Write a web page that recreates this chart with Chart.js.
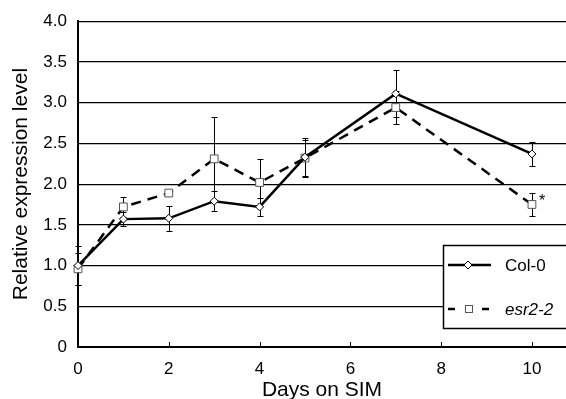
<!DOCTYPE html>
<html>
<head>
<meta charset="utf-8">
<style>
  html, body { margin: 0; padding: 0; background: #fff; }
  #wrap { width: 566px; height: 399px; }
</style>
<script src="https://cdn.jsdelivr.net/npm/chart.js@4.4.1/dist/chart.umd.min.js"></script>
</head>
<body>
<div id="wrap"><canvas id="expressionChart" width="566" height="399"></canvas></div>
<script>
  // ==================== Data ====================
  const days = [0, 1, 2, 3, 4, 5, 7, 10];
  const col0Values = [1.00, 1.57, 1.58, 1.79, 1.72, 2.33, 3.11, 2.37];
  const col0Errors = [0.24, 0.09, 0.15, 0.12, 0.11, 0.24, 0.29, 0.145];
  const esr22Values = [0.96, 1.72, 1.89, 2.31, 2.02, 2.32, 2.94, 1.75];
  const esr22Errors = [0.20, 0.12, 0.03, 0.51, 0.29, 0.22, 0.20, 0.14];
  const seriesLabels = ['Col-0', 'esr2-2'];
  const xTickValues = [0, 2, 4, 6, 8, 10];
  const yTickValues = [0, 0.5, 1, 1.5, 2, 2.5, 3, 3.5, 4];
  const markedIndex = 7; // esr2-2 point flagged with *

(function() {
  'use strict';

  const FONT = '"Liberation Sans", Arial, Helvetica, sans-serif';

  // ==================== Plugins ====================

  // vertical error bars with small caps, drawn under the markers
  const errorBars = {
    id: 'errorBars',
    beforeDatasetsDraw(chart) {
      const ctx = chart.ctx;
      const xs = chart.scales.x;
      const ys = chart.scales.y;
      ctx.save();
      ctx.strokeStyle = '#000';
      ctx.lineWidth = 1;
      chart.data.datasets.forEach(ds => {
        ds.data.forEach((pt, i) => {
          const err = ds.errors[i];
          const px = Math.round(xs.getPixelForValue(pt.x)) + 0.5;
          const top = Math.round(ys.getPixelForValue(pt.y + err)) + 0.5;
          const bot = Math.round(ys.getPixelForValue(pt.y - err)) + 0.5;
          ctx.beginPath();
          ctx.moveTo(px, top); ctx.lineTo(px, bot);
          ctx.moveTo(px - 3, top); ctx.lineTo(px + 3, top);
          ctx.moveTo(px - 3, bot); ctx.lineTo(px + 3, bot);
          ctx.stroke();
        });
      });
      ctx.restore();
    }
  };

  // inward tick marks on the x axis + asterisk + boxed legend
  const decorations = {
    id: 'decorations',
    afterDraw(chart) {
      const ctx = chart.ctx;
      const xs = chart.scales.x;
      const ys = chart.scales.y;
      const base = ys.getPixelForValue(0);

      ctx.save();
      ctx.strokeStyle = '#000';
      ctx.lineWidth = 1;
      xTickValues.slice(1).forEach(v => {
        const px = Math.round(xs.getPixelForValue(v)) + 0.5;
        ctx.beginPath();
        ctx.moveTo(px, base);
        ctx.lineTo(px, base - 5);
        ctx.stroke();
      });

      // significance mark
      const capY = ys.getPixelForValue(esr22Values[markedIndex] + esr22Errors[markedIndex]);
      ctx.fillStyle = '#000';
      ctx.font = '16px ' + FONT;
      ctx.textAlign = 'left';
      ctx.textBaseline = 'alphabetic';
      ctx.fillText('*', xs.getPixelForValue(days[markedIndex]) + 7, capY + 13);

      // legend box
      const left = 443.5, top = 245.5, right = 575, bottom = 328.5;
      ctx.fillStyle = '#fff';
      ctx.fillRect(left, top, right - left, bottom - top);
      ctx.lineWidth = 1.5;
      ctx.strokeRect(left, top, right - left, bottom - top);

      const rows = [265, 309];
      ctx.lineWidth = 2.5;
      // Col-0 sample
      ctx.beginPath();
      ctx.moveTo(448, rows[0]); ctx.lineTo(491, rows[0]);
      ctx.stroke();
      ctx.lineWidth = 1;
      ctx.beginPath();
      ctx.moveTo(468, rows[0] - 4); ctx.lineTo(472, rows[0]);
      ctx.lineTo(468, rows[0] + 4); ctx.lineTo(464, rows[0]);
      ctx.closePath();
      ctx.fill(); ctx.stroke();
      // esr2-2 sample
      ctx.lineWidth = 2.5;
      ctx.beginPath();
      ctx.moveTo(448, rows[1]); ctx.lineTo(455, rows[1]);
      ctx.moveTo(482, rows[1]); ctx.lineTo(489, rows[1]);
      ctx.stroke();
      ctx.lineWidth = 1;
      ctx.strokeStyle = '#555';
      ctx.fillRect(465, rows[1] - 3.5, 7, 7);
      ctx.strokeRect(465.5, rows[1] - 3.5, 7, 7);

      ctx.fillStyle = '#000';
      ctx.textBaseline = 'middle';
      ctx.font = '17px ' + FONT;
      ctx.fillText(seriesLabels[0], 505, rows[0] + 1);
      ctx.font = 'italic 17px ' + FONT;
      ctx.fillText(seriesLabels[1], 505, rows[1] + 1);
      ctx.restore();
    }
  };

  // ==================== Chart ====================

  function toPoints(values) {
    return values.map((v, i) => ({ x: days[i], y: v }));
  }

  function createChart() {
    const ctx = document.getElementById('expressionChart').getContext('2d');

    return new Chart(ctx, {
      type: 'line',
      data: {
        datasets: [
          {
            label: seriesLabels[0],
            data: toPoints(col0Values),
            errors: col0Errors,
            borderColor: '#000',
            borderWidth: 2.5,
            pointStyle: 'rectRot',
            pointRadius: 4,
            pointBackgroundColor: '#fff',
            pointBorderColor: '#000',
            pointBorderWidth: 1,
            tension: 0,
            clip: false
          },
          {
            label: seriesLabels[1],
            data: toPoints(esr22Values),
            errors: esr22Errors,
            borderColor: '#000',
            borderWidth: 2.5,
            borderDash: [10, 7],
            pointStyle: 'rect',
            pointRadius: 5.5,
            pointBackgroundColor: '#fff',
            pointBorderColor: '#555',
            pointBorderWidth: 1,
            tension: 0,
            clip: false
          }
        ]
      },
      options: {
        responsive: false,
        animation: false,
        // no automatic room for point overflow, plot runs to the canvas edge
        layout: { autoPadding: false, padding: { top: 20, right: 0, bottom: 0, left: 0 } },
        plugins: {
          legend: { display: false },
          tooltip: { enabled: false }
        },
        scales: {
          x: {
            type: 'linear',
            min: 0,
            max: 10.75,
            afterBuildTicks: s => { s.ticks = xTickValues.map(v => ({ value: v })); },
            afterFit: s => {
              s.height = 52;
              s.paddingLeft = 0;
              s.paddingRight = 0;
            },
            grid: { display: false, drawTicks: false },
            border: { display: true, color: '#000', width: 2 },
            ticks: {
              padding: 12,
              color: '#000',
              maxRotation: 0,
              font: { family: FONT, size: 17 }
            },
            title: {
              display: true,
              text: 'Days on SIM',
              color: '#000',
              padding: { top: 0, bottom: -2 },
              font: { family: FONT, size: 21, lineHeight: 1 }
            }
          },
          y: {
            type: 'linear',
            min: 0,
            max: 4,
            afterBuildTicks: s => { s.ticks = yTickValues.map(v => ({ value: v })); },
            afterFit: s => { s.width = 78; },
            grid: { color: '#000', lineWidth: 1.2, drawTicks: false },
            border: { display: true, color: '#000', width: 2 },
            ticks: {
              padding: 11,
              color: '#000',
              font: { family: FONT, size: 17 },
              callback: v => (v === 0 ? '0' : v.toFixed(1))
            },
            title: {
              display: true,
              text: 'Relative expression level',
              color: '#000',
              padding: { top: 11, bottom: 0 },
              font: { family: FONT, size: 21, lineHeight: 1 }
            }
          }
        }
      },
      plugins: [errorBars, decorations]
    });
  }

  // ==================== Bootstrap ====================

  if (document.readyState === 'loading') {
    document.addEventListener('DOMContentLoaded', createChart);
  } else {
    createChart();
  }

})();
</script>
</body>
</html>
